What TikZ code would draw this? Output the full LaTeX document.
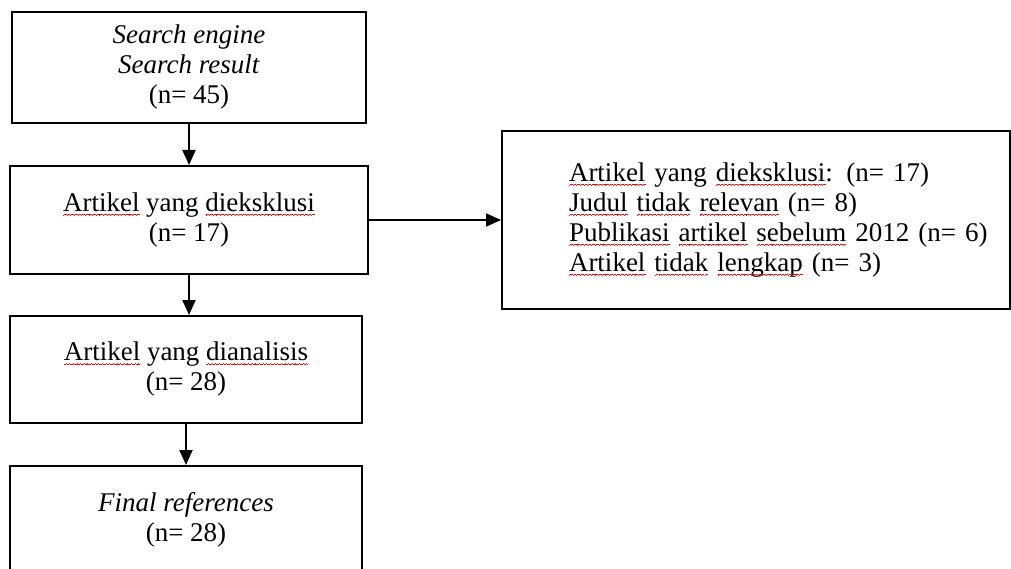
\documentclass[tikz,border=0pt]{standalone}
\usepackage{fontspec}
\setmainfont{Liberation Serif}
\usetikzlibrary{arrows.meta}

% red wavy underline for the spell-checked words
\newsavebox\splbox
\newcommand\wavebit{\rule[-4.2pt]{0.9pt}{0.7pt}\rule[-3.6pt]{0.9pt}{0.7pt}\rule[-3pt]{0.9pt}{0.7pt}\rule[-3.6pt]{0.9pt}{0.7pt}}
\newcommand\spl[1]{\leavevmode\sbox\splbox{#1}\rlap{\usebox\splbox}%
  \hbox to\wd\splbox{\color{red}\xleaders\hbox{\wavebit}\hfil}}

\begin{document}
\begin{tikzpicture}[x=1pt, y=-1pt,
  box/.style={draw, line width=2pt, align=center, inner sep=0pt, font=\fontsize{27}{30}\selectfont},
  flow/.style={line width=2pt, -{Triangle[length=15pt,width=13pt]}}]

\useasboundingbox (0,0) rectangle (1011,569);

\node[box, minimum width=354, minimum height=111] (search) at (189,67.5)
  {\textit{Search engine}\\\textit{Search result}\\(n= 45)};
\node[box, minimum width=358, minimum height=108] (excl) at (189,220)
  {\spl{Artikel} yang \spl{dieksklusi}\\(n= 17)};
\node[box, minimum width=352, minimum height=107] (anal) at (186,369.5)
  {\spl{Artikel} yang \spl{dianalisis}\\(n= 28)};
\node[box, minimum width=352, anchor=north, inner ysep=26pt, text depth=70pt] (final) at (186,465)
  {\textit{Final references}\\(n= 28)};

\node[box, align=left, text width=508, minimum height=178] (detail) at (756,220)
  {\leftskip=67pt \spl{Artikel} yang \spl{dieksklusi}: (n= 17)\\
   \spl{Judul} \spl{tidak} \spl{relevan} (n= 8)\\
   \spl{Publikasi} \spl{artikel} \spl{sebelum} 2012 (n= 6)\\
   \spl{Artikel} \spl{tidak} \spl{lengkap} (n= 3)\par};

\draw[flow] (search.south) -- (excl.north);
\draw[flow] (excl.south) -- (excl.south |- anal.north);
\draw[flow] (anal.south) -- (anal.south |- final.north);
\draw[flow] (excl.east) -- (excl.east -| detail.west);

\end{tikzpicture}
\end{document}
